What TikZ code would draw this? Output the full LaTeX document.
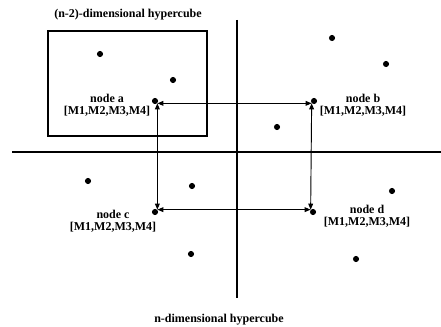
\documentclass[tikz,border=0pt]{standalone}
\usepackage{fontspec}
\setmainfont{Liberation Serif}
\usepackage{tikz}
\usetikzlibrary{arrows.meta}

\begin{document}
\begin{tikzpicture}[x=0.75pt, y=-0.75pt,
    dot/.style={circle, fill=black, inner sep=0pt, minimum size=4.6pt},
    lbl/.style={align=center, font=\fontsize{9}{9}\selectfont\bfseries},
    link/.style={{Triangle[length=4.5pt,width=3.6pt]}-{Triangle[length=4.5pt,width=3.6pt]}, line width=0.7pt}]
    \useasboundingbox (0,0) rectangle (441,327);

    % axes of the n-dimensional hypercube
    \draw[line width=0.8pt] (12,152) -- (441,152);
    \draw[line width=0.8pt] (237,20) -- (237,298);

    % (n-2)-dimensional sub-cube
    \draw[line width=0.8pt] (48,31) rectangle (207,136);
    \node[lbl] (subtitle) at (128,15) {(n-2)-dimensional hypercube};

    % the four nodes
    \node[dot] (a) at (155,101) {};
    \node[dot] (b) at (314,101) {};
    \node[dot] (c) at (155,212) {};
    \node[dot] (d) at (313,212) {};

    \node[lbl] (la) at (107,105) {node a\\ {[M1,M2,M3,M4]}};
    \node[lbl] (lb) at (363,105) {node b\\ {[M1,M2,M3,M4]}};
    \node[lbl] (lc) at (113,221) {node c\\ {[M1,M2,M3,M4]}};
    \node[lbl] (ld) at (367,216) {node d\\ {[M1,M2,M3,M4]}};

    % other points
    \node[dot] (p1) at (100,54) {};
    \node[dot] (p2) at (173,80) {};
    \node[dot] (p3) at (332,38) {};
    \node[dot] (p4) at (386,64) {};
    \node[dot] (p5) at (277,127) {};
    \node[dot] (p6) at (88,181) {};
    \node[dot] (p7) at (192,186) {};
    \node[dot] (p8) at (191,254) {};
    \node[dot] (p9) at (392,191) {};
    \node[dot] (p10) at (356,259) {};

    % links
    \draw[link] (a.south east) -- (b.south west);
    \draw[link] (a.south east) -- (c.north east);
    \draw[link] (b.south west) -- (d.north west);
    \draw[link] (c.north east) -- (d.north west);

    \node[lbl] (title) at (219,320) {n-dimensional hypercube};
\end{tikzpicture}
\end{document}
